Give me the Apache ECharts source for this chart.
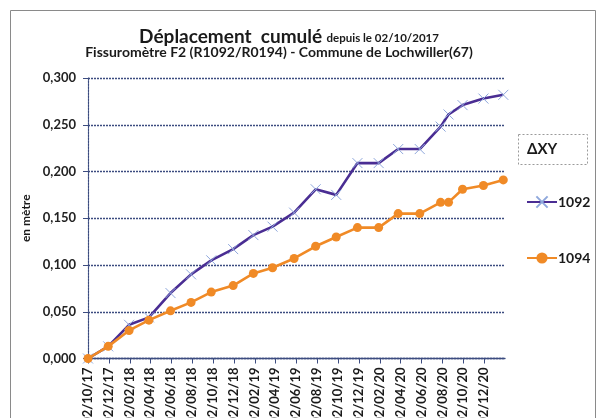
<!DOCTYPE html>
<html>
<head>
<meta charset="utf-8">
<script src="https://cdn.jsdelivr.net/npm/echarts@6/dist/echarts.min.js"></script>
<style>
  html, body { margin: 0; padding: 0; background: #fff; }
  #chart { width: 599px; height: 418px; }
</style>
</head>
<body>
<div id="chart"></div>
<script>
// Measurement dates (cumulative displacement since 02/10/2017)
const dates = [
  '2017-10-02', '2017-11-30', '2018-01-30', '2018-03-29', '2018-05-31', '2018-07-30',
  '2018-09-27', '2018-11-30', '2019-01-28', '2019-03-25', '2019-05-27', '2019-07-29',
  '2019-09-27', '2019-11-28', '2020-01-29', '2020-03-26', '2020-05-28', '2020-07-28',
  '2020-08-20', '2020-09-30', '2020-11-30', '2021-01-27'
];
// Displacement in metres
const s1092 = [0, 0.013, 0.036, 0.044, 0.070, 0.090, 0.105, 0.117, 0.132, 0.141, 0.156, 0.181,
  0.175, 0.209, 0.209, 0.224, 0.224, 0.248, 0.261, 0.271, 0.278, 0.282];
const s1094 = [0, 0.013, 0.030, 0.041, 0.051, 0.060, 0.071, 0.078, 0.091, 0.097, 0.107, 0.120,
  0.130, 0.140, 0.140, 0.155, 0.155, 0.167, 0.167, 0.181, 0.185, 0.191];
// Date axis tick labels (dd/mm/yy, every two months)
const tickLabels = [
  '02/10/17', '02/12/17', '02/02/18', '02/04/18', '02/06/18', '02/08/18', '02/10/18',
  '02/12/18', '02/02/19', '02/04/19', '02/06/19', '02/08/19', '02/10/19', '02/12/19',
  '02/02/20', '02/04/20', '02/06/20', '02/08/20', '02/10/20', '02/12/20'
];

function isoToTime(s) {
  const p = s.split('-').map(Number);
  return Date.UTC(p[0], p[1] - 1, p[2]);
}
function labelToTime(s) {
  const p = s.split('/').map(Number);
  return Date.UTC(2000 + p[2], p[1] - 1, p[0]);
}
const tickTimes = tickLabels.map(labelToTime);
const xMin = tickTimes[0];
const xMax = Date.UTC(2021, 1, 1);

const FONT = 'Lato';
const gridColor = '#3c4c80';
const purple = '#4a2d93';
const orange = '#f08a26';

const chart = echarts.init(document.getElementById('chart'), null, { renderer: 'canvas' });
chart.setOption({
  backgroundColor: '#ffffff',
  animation: false,
  textStyle: { fontFamily: FONT },
  title: [
    {
      text: '{a|Déplacement  cumulé} {b|depuis le 02/10/2017}',
      left: 284, top: 22, textAlign: 'center',
      textStyle: {
        rich: {
          a: { fontFamily: FONT, fontSize: 19, fontWeight: 'bold', color: '#1a1a1a' },
          b: { fontFamily: FONT, fontSize: 11.5, fontWeight: 'bold', color: '#1a1a1a', padding: [3, 0, 0, 0] }
        }
      }
    },
    {
      text: 'Fissuromètre F2 (R1092/R0194) - Commune de Lochwiller(67)',
      left: 274, top: 40, textAlign: 'center',
      textStyle: { fontFamily: FONT, fontSize: 14, fontWeight: 'bold', color: '#1a1a1a' }
    }
  ],
  grid: { left: 88, right: 94, top: 78, bottom: 59.5, outerBoundsMode: 'none', containLabel: false },
  legend: {
    orient: 'vertical',
    left: 521, top: 190,
    itemWidth: 30, itemHeight: 14, itemGap: 42,
    data: ['1092', '1094'],
    textStyle: { fontFamily: FONT, fontSize: 14, fontWeight: 'bold', color: '#1a1a1a', padding: [0, 0, 0, -4] }
  },
  xAxis: {
    type: 'value',
    min: xMin, max: xMax,
    axisLine: { show: true, lineStyle: { color: gridColor, width: 1.3 } },
    axisTick: { show: true, length: 5, customValues: tickTimes, lineStyle: { color: gridColor } },
    axisLabel: {
      customValues: tickTimes,
      rotate: 90,
      margin: 9,
      hideOverlap: false,
      fontFamily: FONT, fontSize: 13, fontWeight: 'bold', color: '#1a1a1a',
      formatter: function (v) {
        const i = tickTimes.indexOf(v);
        return i >= 0 ? tickLabels[i] : '';
      }
    },
    splitLine: { show: false }
  },
  yAxis: {
    type: 'value',
    min: 0, max: 0.3, interval: 0.05,
    name: 'en mètre',
    nameLocation: 'middle',
    nameGap: 55,
    nameRotate: 90,
    nameTextStyle: { fontFamily: FONT, fontSize: 12, fontWeight: 'bold', color: '#1a1a1a' },
    axisLine: { show: true, lineStyle: { color: gridColor, width: 1.2, type: [2, 1] } },
    axisTick: { show: true, length: 5, lineStyle: { color: gridColor } },
    axisLabel: {
      margin: 12,
      fontFamily: FONT, fontSize: 13, fontWeight: 'bold', color: '#222',
      formatter: function (v) { return v.toFixed(3).replace('.', ','); }
    },
    splitLine: { show: true, lineStyle: { color: gridColor, width: 1.3, type: [2, 1] } }
  },
  series: [
    {
      name: '1092',
      type: 'line',
      data: dates.map((d, i) => [isoToTime(d), s1092[i]]),
      symbol: 'path://M0,0L10,10M10,0L0,10',
      symbolSize: 10,
      itemStyle: { color: purple, borderColor: '#8fa8dc', borderWidth: 1 },
      lineStyle: { color: purple, width: 2.6 },
      z: 2
    },
    {
      name: '1094',
      type: 'line',
      data: dates.map((d, i) => [isoToTime(d), s1094[i]]),
      symbol: 'circle',
      symbolSize: 9,
      itemStyle: { color: orange, borderColor: orange, borderWidth: 0 },
      lineStyle: { color: orange, width: 2.6 },
      z: 3
    }
  ],
  graphic: [
    {
      type: 'rect',
      shape: { x: 10.5, y: 10.5, width: 585, height: 420 },
      style: { fill: 'none', stroke: '#8a8a8a', lineWidth: 1 },
      silent: true, z: -1
    },
    {
      type: 'rect',
      shape: { x: 518.5, y: 134.5, width: 69, height: 30 },
      style: { fill: 'none', stroke: '#9a9a9a', lineWidth: 1, lineDash: [2, 2] },
      silent: true
    },
    {
      type: 'text',
      x: 527, y: 149,
      style: { text: 'ΔXY', fontFamily: FONT, fontSize: 15, fontWeight: 'bold', fill: '#1a1a1a', verticalAlign: 'middle' },
      silent: true
    }
  ]
});
</script>
</body>
</html>
